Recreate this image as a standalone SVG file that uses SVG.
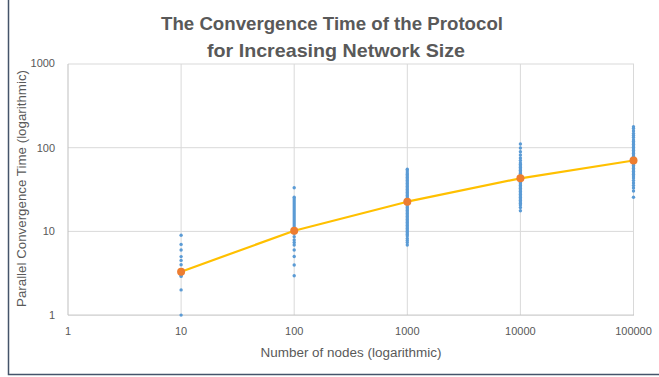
<svg xmlns="http://www.w3.org/2000/svg" width="659" height="377" viewBox="0 0 659 377">
<style>
.grid{stroke:#D9D9D9;stroke-width:1;fill:none}
.axis{stroke:#BFBFBF;stroke-width:1;fill:none}
.tick{font-family:"Liberation Sans",Arial,sans-serif;font-size:11px;fill:#595959}
.atitle{font-family:"Liberation Sans",Arial,sans-serif;font-size:12px;fill:#595959}
.title{font-family:"Liberation Sans",Arial,sans-serif;font-size:19px;font-weight:bold;fill:#595959}
.d{fill:#5B9BD5}
.m{fill:#ED7D31}
</style>
<rect x="0" y="0" width="659" height="377" fill="#FFFFFF"/>
<g id="border" stroke="#44546A" stroke-width="1.5" fill="none">
<path d="M8.5 0 V374.5 H659"/>
</g>
<g id="title">
<text class="title" x="332" y="29.5" text-anchor="middle" textLength="342" lengthAdjust="spacingAndGlyphs">The Convergence Time of the Protocol</text>
<text class="title" x="336" y="56.5" text-anchor="middle" textLength="258" lengthAdjust="spacingAndGlyphs">for Increasing Network Size</text>
</g>
<g id="gridlines">
<path class="grid" d="M68 64 H634 M68 147.7 H634 M68 231.4 H634"/>
<path class="grid" d="M181.1 64 V315 M294.2 64 V315 M407.3 64 V315 M520.4 64 V315 M633.5 64 V315"/>
<path class="axis" d="M68 64 V315.1 M68 315.1 H634"/>
</g>
<g id="y-ticks" text-anchor="end">
<text class="tick" x="55" y="67.3">1000</text>
<text class="tick" x="55" y="151.5">100</text>
<text class="tick" x="55" y="235.2">10</text>
<text class="tick" x="55" y="319">1</text>
</g>
<g id="x-ticks" text-anchor="middle">
<text class="tick" x="68" y="335">1</text>
<text class="tick" x="181.1" y="335">10</text>
<text class="tick" x="294.2" y="335">100</text>
<text class="tick" x="407.3" y="335">1000</text>
<text class="tick" x="520.4" y="335">10000</text>
<text class="tick" x="633.5" y="335">100000</text>
</g>
<g id="axis-titles">
<text class="atitle" x="351" y="356.5" text-anchor="middle" textLength="181" lengthAdjust="spacingAndGlyphs">Number of nodes (logarithmic)</text>
<text class="atitle" transform="translate(25.5 188.5) rotate(-90)" x="0" y="0" text-anchor="middle" textLength="237" lengthAdjust="spacingAndGlyphs">Parallel Convergence Time (logarithmic)</text>
</g>
<g id="samples-10">
<circle class="d" cx="181.1" cy="315.1" r="1.7"/><circle class="d" cx="181.1" cy="289.9" r="1.7"/><circle class="d" cx="181.1" cy="276.4" r="1.7"/><circle class="d" cx="181.1" cy="275.2" r="1.7"/><circle class="d" cx="181.1" cy="273.5" r="1.7"/><circle class="d" cx="181.1" cy="269.6" r="1.7"/><circle class="d" cx="181.1" cy="264.7" r="1.7"/><circle class="d" cx="181.1" cy="260.4" r="1.7"/><circle class="d" cx="181.1" cy="256.6" r="1.7"/><circle class="d" cx="181.1" cy="250" r="1.7"/><circle class="d" cx="181.1" cy="244.4" r="1.7"/><circle class="d" cx="181.1" cy="235.2" r="1.7"/>
</g>
<g id="samples-100">
<circle class="d" cx="294.2" cy="187.7" r="1.7"/><circle class="d" cx="294.2" cy="197.3" r="1.7"/><circle class="d" cx="294.2" cy="199" r="1.7"/><circle class="d" cx="294.2" cy="201" r="1.7"/><circle class="d" cx="294.2" cy="203" r="1.7"/><circle class="d" cx="294.2" cy="205" r="1.7"/><circle class="d" cx="294.2" cy="207" r="1.7"/><circle class="d" cx="294.2" cy="209" r="1.7"/><circle class="d" cx="294.2" cy="211" r="1.7"/><circle class="d" cx="294.2" cy="213" r="1.7"/><circle class="d" cx="294.2" cy="215" r="1.7"/><circle class="d" cx="294.2" cy="217" r="1.7"/><circle class="d" cx="294.2" cy="219" r="1.7"/><circle class="d" cx="294.2" cy="221" r="1.7"/><circle class="d" cx="294.2" cy="223" r="1.7"/><circle class="d" cx="294.2" cy="225" r="1.7"/><circle class="d" cx="294.2" cy="227" r="1.7"/><circle class="d" cx="294.2" cy="229" r="1.7"/><circle class="d" cx="294.2" cy="231" r="1.7"/><circle class="d" cx="294.2" cy="233.3" r="1.7"/><circle class="d" cx="294.2" cy="236.7" r="1.7"/><circle class="d" cx="294.2" cy="240" r="1.7"/><circle class="d" cx="294.2" cy="242.5" r="1.7"/><circle class="d" cx="294.2" cy="245" r="1.7"/><circle class="d" cx="294.2" cy="250" r="1.7"/><circle class="d" cx="294.2" cy="256.5" r="1.7"/><circle class="d" cx="294.2" cy="265" r="1.7"/><circle class="d" cx="294.2" cy="275.7" r="1.7"/>
</g>
<g id="samples-1000">
<circle class="d" cx="407.3" cy="169.3" r="1.7"/><circle class="d" cx="407.3" cy="171" r="1.7"/><circle class="d" cx="407.3" cy="173" r="1.7"/><circle class="d" cx="407.3" cy="174.5" r="1.7"/><circle class="d" cx="407.3" cy="176" r="1.7"/><circle class="d" cx="407.3" cy="177.5" r="1.7"/><circle class="d" cx="407.3" cy="179" r="1.7"/><circle class="d" cx="407.3" cy="180.5" r="1.7"/><circle class="d" cx="407.3" cy="182" r="1.7"/><circle class="d" cx="407.3" cy="183.5" r="1.7"/><circle class="d" cx="407.3" cy="185" r="1.7"/><circle class="d" cx="407.3" cy="186.5" r="1.7"/><circle class="d" cx="407.3" cy="188" r="1.7"/><circle class="d" cx="407.3" cy="189.5" r="1.7"/><circle class="d" cx="407.3" cy="191" r="1.7"/><circle class="d" cx="407.3" cy="192.5" r="1.7"/><circle class="d" cx="407.3" cy="194" r="1.7"/><circle class="d" cx="407.3" cy="195.5" r="1.7"/><circle class="d" cx="407.3" cy="197" r="1.7"/><circle class="d" cx="407.3" cy="198.5" r="1.7"/><circle class="d" cx="407.3" cy="200" r="1.7"/><circle class="d" cx="407.3" cy="201.5" r="1.7"/><circle class="d" cx="407.3" cy="203" r="1.7"/><circle class="d" cx="407.3" cy="204.5" r="1.7"/><circle class="d" cx="407.3" cy="206" r="1.7"/><circle class="d" cx="407.3" cy="207.5" r="1.7"/><circle class="d" cx="407.3" cy="209" r="1.7"/><circle class="d" cx="407.3" cy="210.5" r="1.7"/><circle class="d" cx="407.3" cy="212" r="1.7"/><circle class="d" cx="407.3" cy="213.5" r="1.7"/><circle class="d" cx="407.3" cy="215" r="1.7"/><circle class="d" cx="407.3" cy="216.5" r="1.7"/><circle class="d" cx="407.3" cy="218" r="1.7"/><circle class="d" cx="407.3" cy="219.5" r="1.7"/><circle class="d" cx="407.3" cy="221" r="1.7"/><circle class="d" cx="407.3" cy="222.5" r="1.7"/><circle class="d" cx="407.3" cy="224" r="1.7"/><circle class="d" cx="407.3" cy="225.5" r="1.7"/><circle class="d" cx="407.3" cy="227" r="1.7"/><circle class="d" cx="407.3" cy="228.5" r="1.7"/><circle class="d" cx="407.3" cy="230" r="1.7"/><circle class="d" cx="407.3" cy="231.5" r="1.7"/><circle class="d" cx="407.3" cy="233" r="1.7"/><circle class="d" cx="407.3" cy="234.5" r="1.7"/><circle class="d" cx="407.3" cy="236" r="1.7"/><circle class="d" cx="407.3" cy="238.5" r="1.7"/><circle class="d" cx="407.3" cy="240.5" r="1.7"/><circle class="d" cx="407.3" cy="242.5" r="1.7"/><circle class="d" cx="407.3" cy="245" r="1.7"/>
</g>
<g id="samples-10000">
<circle class="d" cx="520.4" cy="144" r="1.7"/><circle class="d" cx="520.4" cy="148" r="1.7"/><circle class="d" cx="520.4" cy="151.7" r="1.7"/><circle class="d" cx="520.4" cy="155" r="1.7"/><circle class="d" cx="520.4" cy="158" r="1.7"/><circle class="d" cx="520.4" cy="160.5" r="1.7"/><circle class="d" cx="520.4" cy="163" r="1.7"/><circle class="d" cx="520.4" cy="164.5" r="1.7"/><circle class="d" cx="520.4" cy="166" r="1.7"/><circle class="d" cx="520.4" cy="167.5" r="1.7"/><circle class="d" cx="520.4" cy="169" r="1.7"/><circle class="d" cx="520.4" cy="170.5" r="1.7"/><circle class="d" cx="520.4" cy="172" r="1.7"/><circle class="d" cx="520.4" cy="173.5" r="1.7"/><circle class="d" cx="520.4" cy="175" r="1.7"/><circle class="d" cx="520.4" cy="176.5" r="1.7"/><circle class="d" cx="520.4" cy="178" r="1.7"/><circle class="d" cx="520.4" cy="179.5" r="1.7"/><circle class="d" cx="520.4" cy="181" r="1.7"/><circle class="d" cx="520.4" cy="182.5" r="1.7"/><circle class="d" cx="520.4" cy="184" r="1.7"/><circle class="d" cx="520.4" cy="185.5" r="1.7"/><circle class="d" cx="520.4" cy="187" r="1.7"/><circle class="d" cx="520.4" cy="188.5" r="1.7"/><circle class="d" cx="520.4" cy="190" r="1.7"/><circle class="d" cx="520.4" cy="191.5" r="1.7"/><circle class="d" cx="520.4" cy="193" r="1.7"/><circle class="d" cx="520.4" cy="194.5" r="1.7"/><circle class="d" cx="520.4" cy="196" r="1.7"/><circle class="d" cx="520.4" cy="197.5" r="1.7"/><circle class="d" cx="520.4" cy="199" r="1.7"/><circle class="d" cx="520.4" cy="200.5" r="1.7"/><circle class="d" cx="520.4" cy="202" r="1.7"/><circle class="d" cx="520.4" cy="203.5" r="1.7"/><circle class="d" cx="520.4" cy="205" r="1.7"/><circle class="d" cx="520.4" cy="207.5" r="1.7"/><circle class="d" cx="520.4" cy="210.7" r="1.7"/>
</g>
<g id="samples-100000">
<circle class="d" cx="633.5" cy="126.7" r="1.7"/><circle class="d" cx="633.5" cy="128.5" r="1.7"/><circle class="d" cx="633.5" cy="131" r="1.7"/><circle class="d" cx="633.5" cy="133.5" r="1.7"/><circle class="d" cx="633.5" cy="135.5" r="1.7"/><circle class="d" cx="633.5" cy="137.5" r="1.7"/><circle class="d" cx="633.5" cy="140" r="1.7"/><circle class="d" cx="633.5" cy="141.5" r="1.7"/><circle class="d" cx="633.5" cy="143" r="1.7"/><circle class="d" cx="633.5" cy="144.5" r="1.7"/><circle class="d" cx="633.5" cy="146" r="1.7"/><circle class="d" cx="633.5" cy="147.5" r="1.7"/><circle class="d" cx="633.5" cy="149" r="1.7"/><circle class="d" cx="633.5" cy="150.5" r="1.7"/><circle class="d" cx="633.5" cy="152" r="1.7"/><circle class="d" cx="633.5" cy="153.5" r="1.7"/><circle class="d" cx="633.5" cy="155" r="1.7"/><circle class="d" cx="633.5" cy="156.5" r="1.7"/><circle class="d" cx="633.5" cy="158" r="1.7"/><circle class="d" cx="633.5" cy="159.5" r="1.7"/><circle class="d" cx="633.5" cy="161" r="1.7"/><circle class="d" cx="633.5" cy="162.5" r="1.7"/><circle class="d" cx="633.5" cy="164" r="1.7"/><circle class="d" cx="633.5" cy="165.5" r="1.7"/><circle class="d" cx="633.5" cy="167" r="1.7"/><circle class="d" cx="633.5" cy="168.5" r="1.7"/><circle class="d" cx="633.5" cy="170" r="1.7"/><circle class="d" cx="633.5" cy="171.5" r="1.7"/><circle class="d" cx="633.5" cy="173" r="1.7"/><circle class="d" cx="633.5" cy="174.5" r="1.7"/><circle class="d" cx="633.5" cy="176" r="1.7"/><circle class="d" cx="633.5" cy="178" r="1.7"/><circle class="d" cx="633.5" cy="180.5" r="1.7"/><circle class="d" cx="633.5" cy="183" r="1.7"/><circle class="d" cx="633.5" cy="185.5" r="1.7"/><circle class="d" cx="633.5" cy="188" r="1.7"/><circle class="d" cx="633.5" cy="191" r="1.7"/><circle class="d" cx="633.5" cy="197.3" r="1.7"/>
</g>
<g id="mean-line">
<polyline points="181.1,271.7 294.2,230.7 407.3,201.7 520.4,178.3 633.5,160.5" fill="none" stroke="#FFC000" stroke-width="2.2" stroke-linejoin="round"/>
</g>
<g id="mean-markers">
<circle class="m" cx="181.1" cy="271.7" r="4"/>
<circle class="m" cx="294.2" cy="230.7" r="4"/>
<circle class="m" cx="407.3" cy="201.7" r="4"/>
<circle class="m" cx="520.4" cy="178.3" r="4"/>
<circle class="m" cx="633.5" cy="160.5" r="4"/>
</g>
</svg>
